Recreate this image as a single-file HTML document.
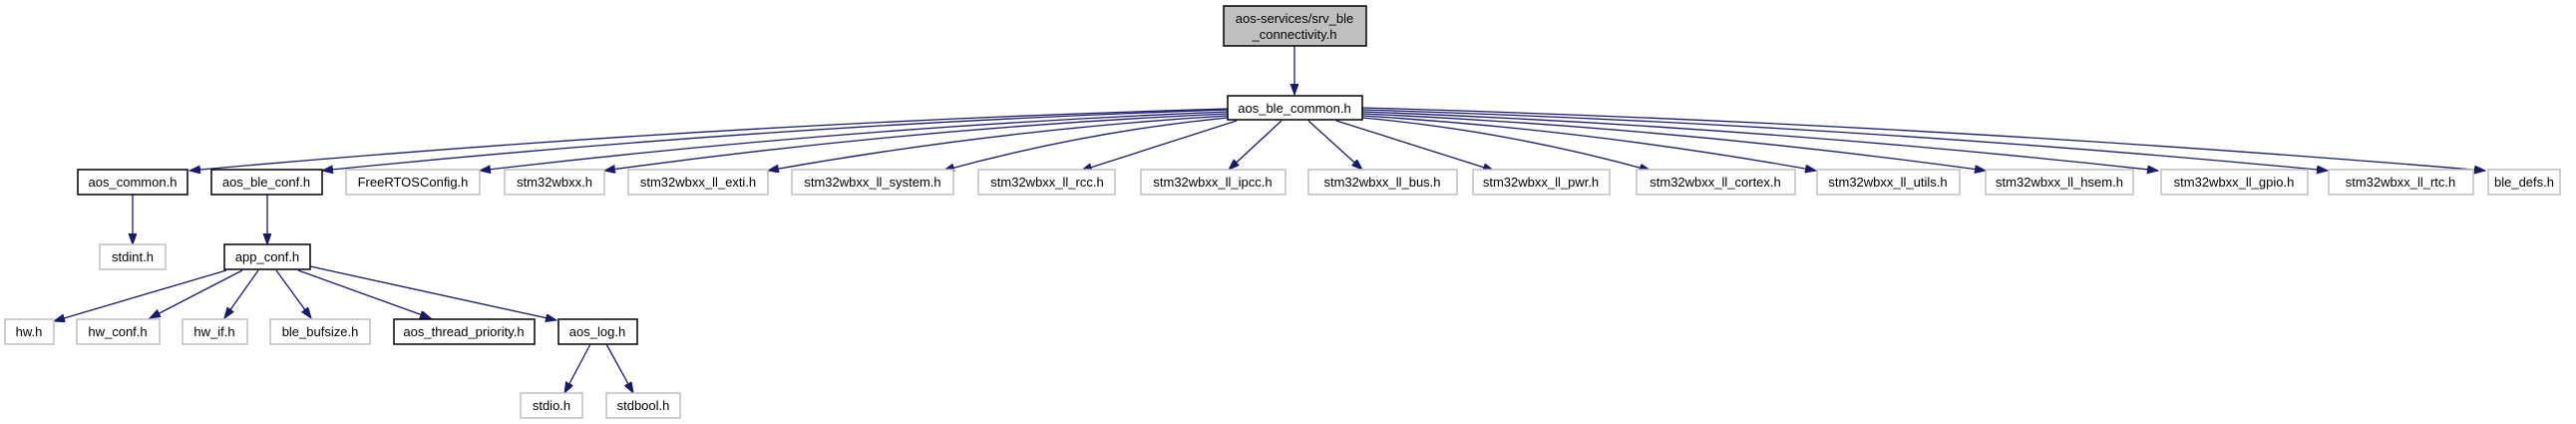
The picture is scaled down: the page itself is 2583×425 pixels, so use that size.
<!DOCTYPE html>
<html><head><meta charset="utf-8"><style>
html,body{margin:0;padding:0;background:#fff;}
svg{display:block;}
text{font-family:"Liberation Sans",Arial,sans-serif;font-size:13px;fill:#000;text-anchor:middle;}
.g{fill:#fff;stroke:#bfbfbf;stroke-width:1.5;}
.b{fill:#fff;stroke:#000;stroke-width:1.5;}
.e{fill:none;stroke:#191970;stroke-width:1.3;marker-end:url(#a);}
</style></head><body>
<svg width="2583" height="425" viewBox="0 0 2583 425" xmlns="http://www.w3.org/2000/svg">
<defs><marker id="a" markerUnits="userSpaceOnUse" markerWidth="12" markerHeight="10" refX="11" refY="4" orient="auto"><path d="M0,0 L11,4 L0,8 z" fill="#191970" stroke="#191970"/></marker></defs>

<!-- edges -->
<path class="e" d="M1298,46 L1298,95"/>
<path class="e" d="M1231,109 Q710,124 190,171"/>
<path class="e" d="M1231,110 Q777,125 323,171"/>
<path class="e" d="M1231,112 Q856,127 481,171"/>
<path class="e" d="M1231,114 Q918,128 606,171"/>
<path class="e" d="M1231,116 Q1000,130 770,171"/>
<path class="e" d="M1231,118 Q1088,132 946,171"/>
<path class="e" d="M1240,121 L1084,171"/>
<path class="e" d="M1285,121 L1232,170"/>
<path class="e" d="M1312,121 L1366,170"/>
<path class="e" d="M1340,121 L1498,171"/>
<path class="e" d="M1366,118 Q1510,131 1655,171"/>
<path class="e" d="M1366,116 Q1593,130 1821,171"/>
<path class="e" d="M1366,114 Q1678,128 1991,171"/>
<path class="e" d="M1366,112 Q1765,127 2164,171"/>
<path class="e" d="M1366,110 Q1850,125 2334,171"/>
<path class="e" d="M1366,108 Q1929,124 2492,171"/>
<path class="e" d="M133,195 L133,245"/>
<path class="e" d="M268,195 L268,245"/>
<path class="e" d="M227,271 L54,322"/>
<path class="e" d="M243,271 L150,319"/>
<path class="e" d="M259,271 L225,319"/>
<path class="e" d="M277,271 L312,319"/>
<path class="e" d="M299,271 L432,319"/>
<path class="e" d="M311,267 L558,321"/>
<path class="e" d="M592,345 L566,394"/>
<path class="e" d="M608,345 L635,394"/>

<!-- top -->
<rect x="1227" y="6" width="143" height="40" fill="#bfbfbf" stroke="#000" stroke-width="1.5"/>
<text x="1298" y="23">aos-services/srv_ble</text>
<text x="1298" y="39">_connectivity.h</text>
<rect class="b" x="1231" y="96" width="135" height="24"/><text x="1298" y="113">aos_ble_common.h</text>

<!-- row 2 -->
<rect class="b" x="78" y="170" width="110" height="25"/><text x="133" y="187">aos_common.h</text>
<rect class="b" x="212" y="170" width="111" height="25"/><text x="267" y="187">aos_ble_conf.h</text>
<rect class="g" x="347" y="170" width="134" height="25"/><text x="414" y="187">FreeRTOSConfig.h</text>
<rect class="g" x="506" y="170" width="100" height="25"/><text x="556" y="187">stm32wbxx.h</text>
<rect class="g" x="630" y="170" width="140" height="25"/><text x="700" y="187">stm32wbxx_ll_exti.h</text>
<rect class="g" x="794" y="170" width="162" height="25"/><text x="875" y="187">stm32wbxx_ll_system.h</text>
<rect class="g" x="981" y="170" width="137" height="25"/><text x="1050" y="187">stm32wbxx_ll_rcc.h</text>
<rect class="g" x="1144" y="170" width="145" height="25"/><text x="1216" y="187">stm32wbxx_ll_ipcc.h</text>
<rect class="g" x="1312" y="170" width="149" height="25"/><text x="1386" y="187">stm32wbxx_ll_bus.h</text>
<rect class="g" x="1477" y="170" width="137" height="25"/><text x="1545" y="187">stm32wbxx_ll_pwr.h</text>
<rect class="g" x="1641" y="170" width="159" height="25"/><text x="1720" y="187">stm32wbxx_ll_cortex.h</text>
<rect class="g" x="1822" y="170" width="143" height="25"/><text x="1893" y="187">stm32wbxx_ll_utils.h</text>
<rect class="g" x="1991" y="170" width="148" height="25"/><text x="2065" y="187">stm32wbxx_ll_hsem.h</text>
<rect class="g" x="2167" y="170" width="147" height="25"/><text x="2240" y="187">stm32wbxx_ll_gpio.h</text>
<rect class="g" x="2335" y="170" width="145" height="25"/><text x="2407" y="187">stm32wbxx_ll_rtc.h</text>
<rect class="g" x="2495" y="170" width="72" height="25"/><text x="2531" y="187">ble_defs.h</text>

<!-- row 3 -->
<rect class="g" x="100" y="245" width="66" height="25"/><text x="133" y="262">stdint.h</text>
<rect class="b" x="225" y="245" width="86" height="25"/><text x="268" y="262">app_conf.h</text>

<!-- row 4 -->
<rect class="g" x="5" y="320" width="49" height="25"/><text x="29" y="337">hw.h</text>
<rect class="g" x="77" y="320" width="83" height="25"/><text x="118" y="337">hw_conf.h</text>
<rect class="g" x="183" y="320" width="65" height="25"/><text x="215" y="337">hw_if.h</text>
<rect class="g" x="271" y="320" width="100" height="25"/><text x="321" y="337">ble_bufsize.h</text>
<rect class="b" x="395" y="320" width="141" height="25"/><text x="465" y="337">aos_thread_priority.h</text>
<rect class="b" x="560" y="320" width="79" height="25"/><text x="599" y="337">aos_log.h</text>

<!-- row 5 -->
<rect class="g" x="522" y="394" width="62" height="25"/><text x="553" y="411">stdio.h</text>
<rect class="g" x="608" y="394" width="74" height="25"/><text x="645" y="411">stdbool.h</text>
</svg>
</body></html>
